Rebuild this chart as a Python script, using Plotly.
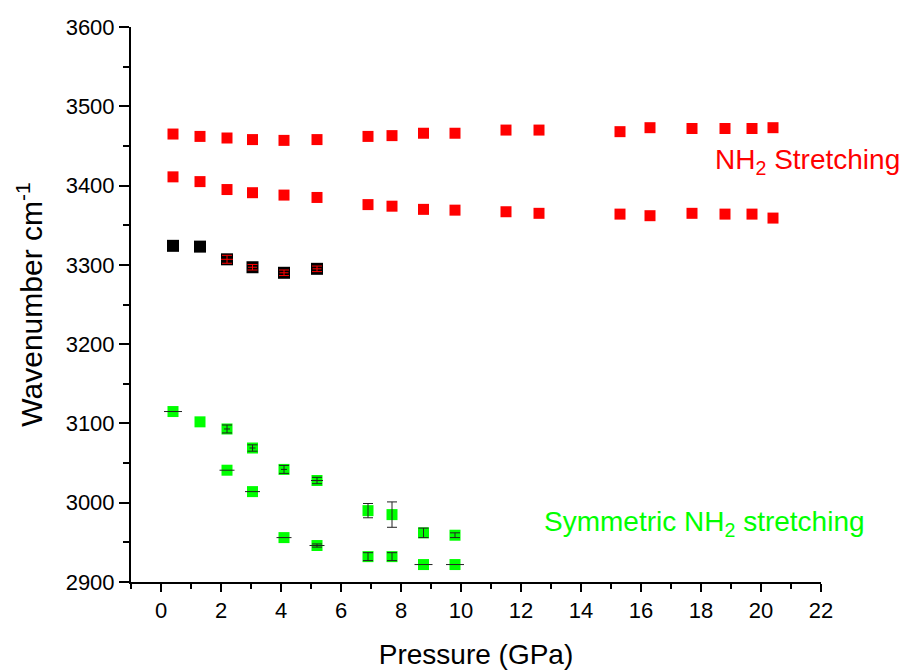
import plotly.graph_objects as go

# Pressure values (GPa)
p_full = [0.4, 1.3, 2.2, 3.05, 4.1, 5.2, 6.9, 7.7, 8.75, 9.8, 11.5, 12.6, 15.3, 16.3, 17.7, 18.8, 19.7, 20.4]
p_low = [0.4, 1.3, 2.2, 3.05, 4.1, 5.2]
p_green_upper = [0.4, 1.3, 2.2, 3.05, 4.1, 5.2, 6.9, 7.7, 8.75, 9.8]
p_green_lower = [2.2, 3.05, 4.1, 5.2, 6.9, 7.7, 8.75, 9.8]

# Wavenumbers (cm-1)
red_upper = [3465, 3462, 3460, 3458, 3457, 3458, 3462, 3463, 3466, 3466, 3470, 3470, 3468, 3473, 3472, 3472, 3472, 3473]
red_lower = [3411, 3405, 3395, 3391, 3388, 3385, 3376, 3374, 3370, 3369, 3367, 3365, 3364, 3362, 3365, 3364, 3364, 3359]
black_vals = [3324, 3323, 3307, 3297, 3290, 3295]
black_err = [None, None, 5, 3.5, 3.5, 3.5]
black_xerr = [None, None, 0.2, 0.15, 0.15, 0.15]
green_upper = [3115, 3102, 3093, 3069, 3042, 3028, 2990, 2985, 2962, 2959]
green_upper_err = [None, None, 5, 4, 5, 4, 9, 16, 6, 3]
green_upper_xerr = [0.3, None, 0.1, 0.1, 0.1, 0.2, None, None, None, None]
green_lower = [3041, 3014, 2956, 2946, 2932, 2932, 2922, 2922]
green_lower_err = [None, None, None, 2, 5, 5, None, None]
green_lower_xerr = [0.25, 0.25, 0.25, 0.25, None, None, 0.3, 0.3]

FONT = "Arial, Liberation Sans, sans-serif"

fig = go.Figure()

def marks(x, y, color, size=11):
    fig.add_trace(go.Scatter(x=x, y=y, mode="markers",
                             marker=dict(symbol="square", size=size, color=color, line=dict(width=0))))

def errs(x, y, ey, ex, color):
    iy = [i for i, e in enumerate(ey) if e is not None]
    ix = [i for i, e in enumerate(ex) if e is not None]
    if iy:
        fig.add_trace(go.Scatter(x=[x[i] for i in iy], y=[y[i] for i in iy], mode="markers",
                                 marker=dict(size=1, opacity=0),
                                 error_y=dict(type="data", array=[ey[i] for i in iy],
                                              color=color, thickness=1, width=5)))
    if ix:
        fig.add_trace(go.Scatter(x=[x[i] for i in ix], y=[y[i] for i in ix], mode="markers",
                                 marker=dict(size=1, opacity=0),
                                 error_x=dict(type="data", array=[ex[i] for i in ix],
                                              color=color, thickness=1, width=0)))

marks(p_full, red_upper, "#FF0000")
marks(p_full, red_lower, "#FF0000")
marks(p_low, black_vals, "black", 12)
errs(p_low, black_vals, black_err, black_xerr, "#FF0000")
marks(p_green_upper, green_upper, "#00FF00")
errs(p_green_upper, green_upper, green_upper_err, green_upper_xerr, "#222222")
marks(p_green_lower, green_lower, "#00FF00")
errs(p_green_lower, green_lower, green_lower_err, green_lower_xerr, "#222222")

fig.add_annotation(x=18.4, y=3430, xref="x", yref="y", text="NH<sub>2</sub> Stretching",
                   showarrow=False, xanchor="left", yanchor="middle",
                   font=dict(family=FONT, size=28, color="#FF0000"))
fig.add_annotation(x=12.7, y=2974, xref="x", yref="y", text="Symmetric NH<sub>2</sub> stretching",
                   showarrow=False, xanchor="left", yanchor="middle",
                   font=dict(family=FONT, size=28, color="#00FF00"))

fig.update_layout(
    width=908, height=671,
    margin=dict(l=131, r=87, t=27, b=89),
    paper_bgcolor="white", plot_bgcolor="white",
    showlegend=False,
    font=dict(family=FONT, color="black"),
)
fig.update_xaxes(
    range=[-1, 22], tick0=0, dtick=2, showgrid=False, zeroline=False,
    showline=True, linecolor="black", linewidth=2, automargin=False,
    ticks="outside", ticklen=8, tickwidth=2, tickcolor="black",
    tickfont=dict(family=FONT, size=22, color="black"),
    minor=dict(dtick=1, tick0=-1, ticks="outside", ticklen=5, tickwidth=2, tickcolor="black", showgrid=False),
    title=dict(text="Pressure (GPa)", font=dict(family=FONT, size=28, color="black"), standoff=22),
)
fig.update_yaxes(
    range=[2900, 3600], tick0=2900, dtick=100, showgrid=False, zeroline=False,
    showline=True, linecolor="black", linewidth=2, automargin=False,
    ticks="outside", ticklen=10, tickwidth=2, tickcolor="black",
    tickfont=dict(family=FONT, size=22, color="black"),
    minor=dict(dtick=50, ticks="outside", ticklen=6, tickwidth=2, tickcolor="black", showgrid=False),
    title=dict(text="Wavenumber cm<sup>-1</sup>", font=dict(family=FONT, size=30, color="black"), standoff=14),
)

fig.write_html("out.html")
